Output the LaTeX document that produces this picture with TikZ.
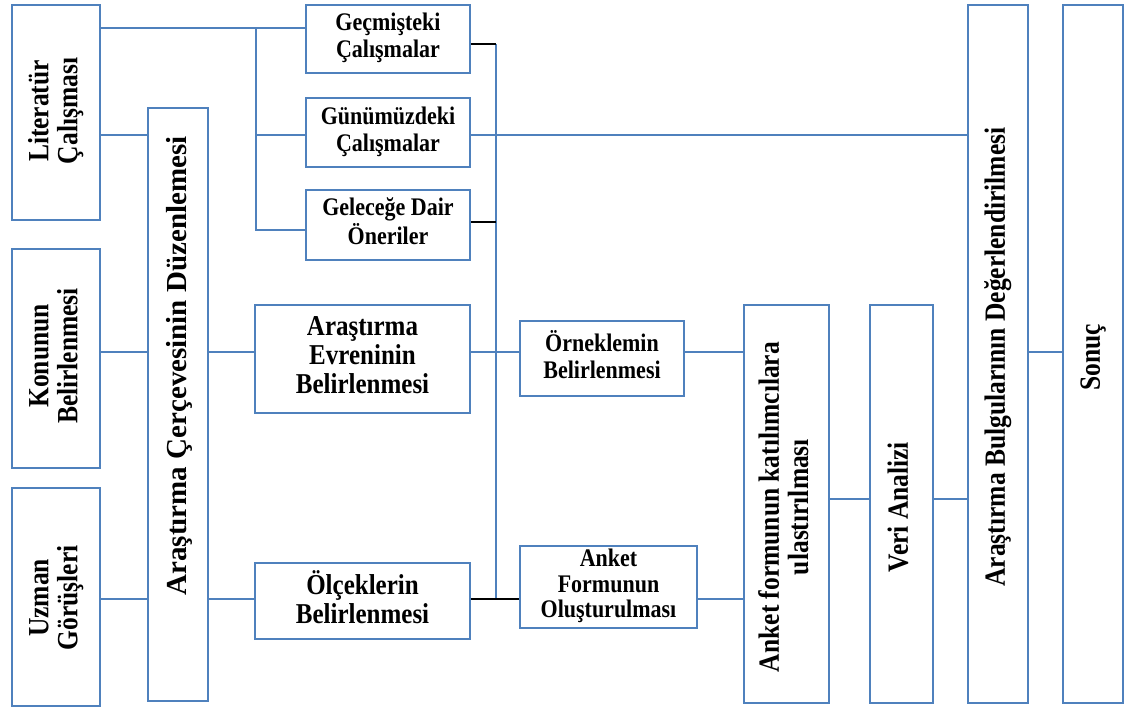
\documentclass[tikz,border=0pt]{standalone}
\usepackage{fontspec}
\setmainfont{Liberation Serif}
\usepackage{graphicx}
\definecolor{bl}{RGB}{79,129,189}
\newcommand{\tallt}[1]{\scalebox{1}[1.15]{\begin{tabular}{@{}c@{}}#1\end{tabular}}}
\tikzset{
  box/.style={draw=bl, line width=2.8pt, fill=white, inner sep=0pt},
  htext/.style={inner sep=0pt, font=\fontsize{22}{23.5}\selectfont\bfseries},
  hbig/.style={inner sep=0pt, font=\fontsize{25}{25.2}\selectfont\bfseries},
  rtext/.style={inner sep=0pt, rotate=90, font=\fontsize{25.5}{25.2}\selectfont\bfseries},
  conn/.style={draw=bl, line width=2.5pt},
  blk/.style={draw=black, line width=2.5pt},
}
\begin{document}
\begin{tikzpicture}[x=1pt,y=-1pt]
\fill[white] (0,0) rectangle (1128,715);
\useasboundingbox (0,0) rectangle (1128,715);

% left column
\node[box, minimum width=88pt, minimum height=215pt] (lit) at (56,112.5) {};
\node[rtext] (litT) at (57,111) {\tallt{Literatür\\Çalışması}};
\node[box, minimum width=88pt, minimum height=219pt] (kon) at (56,358.5) {};
\node[rtext] (konT) at (57,356) {\tallt{Konunun\\Belirlenmesi}};
\node[box, minimum width=88pt, minimum height=218pt] (uzm) at (56,597) {};
\node[rtext] (uzmT) at (57,598) {\tallt{Uzman\\Görüşleri}};

% framework
\node[box, minimum width=60pt, minimum height=593pt] (cer) at (178,404.5) {};
\node[rtext, font=\fontsize{29}{33}\selectfont\bfseries] (cerT) at (179,366) {Araştırma Çerçevesinin Düzenlemesi};

% top studies
\node[box, minimum width=164pt, minimum height=68pt] (gec) at (388,39) {};
\node[htext] (gecT) at (gec) {\tallt{Geçmişteki\\Çalışmalar}};
\node[box, minimum width=164pt, minimum height=69pt] (gun) at (388,132.5) {};
\node[htext] (gunT) at (gun) {\tallt{Günümüzdeki\\Çalışmalar}};
\node[box, minimum width=164pt, minimum height=70pt] (gel) at (388,225) {};
\node[htext] (gelT) at (gel) {\tallt{Geleceğe Dair\\Öneriler}};

% middle
\node[box, minimum width=215pt, minimum height=108pt] (evr) at (362.5,359) {};
\node[hbig] (evrT) at (evr) {\tallt{Araştırma\\Evreninin\\Belirlenmesi}};
\node[box, minimum width=215pt, minimum height=76pt] (olc) at (362.5,601) {};
\node[hbig] (olcT) at (olc) {\tallt{Ölçeklerin\\Belirlenmesi}};
\node[box, minimum width=164pt, minimum height=75pt] (orn) at (602,358.5) {};
\node[htext] (ornT) at (orn) {\tallt{Örneklemin\\Belirlenmesi}};
\node[box, minimum width=177pt, minimum height=82pt] (ank) at (608.5,587) {};
\node[htext, font=\fontsize{22}{22}\selectfont\bfseries] (ankT) at (ank) {\tallt{Anket\\Formunun\\Oluşturulması}};

% right columns
\node[box, minimum width=85pt, minimum height=398pt] (kat) at (786.5,504) {};
\node[rtext] (katT) at (787.5,507) {\tallt{Anket formunun katılımcılara\\ulastırılması}};
\node[box, minimum width=63pt, minimum height=398pt] (ver) at (901.5,504) {};
\node[rtext] (verT) at (902,507) {\tallt{Veri Analizi}};
\node[box, minimum width=60pt, minimum height=698pt] (bul) at (998,354) {};
\node[rtext] (bulT) at (999,357) {\tallt{Araştırma Bulgularının Değerlendirilmesi}};
\node[box, minimum width=60pt, minimum height=698pt] (son) at (1093,354) {};
\node[rtext] (sonT) at (1094,357) {\tallt{Sonuç}};

% helper coordinates
\coordinate (y28) at (0,28);
\coordinate (y44) at (0,44);
\coordinate (y135) at (0,135);
\coordinate (y222) at (0,222);
\coordinate (y230) at (0,230);
\coordinate (y352) at (0,352);
\coordinate (y499) at (0,499);
\coordinate (y599) at (0,599);
\coordinate (tA) at (256,28);
\coordinate (tB) at (256,135);
\coordinate (tC) at (256,230);
\coordinate (vTop) at (496,44);
\coordinate (vMid) at (496,222);
\coordinate (vBot) at (496,599);

% connectors
\draw[conn] (lit.east |- y28) -- (gec.west |- y28);
\draw[conn] (tA) -- (tC) -- (gel.west |- y230);
\draw[conn] (tB) -- (gun.west |- y135);
\draw[conn] (lit.east |- y135) -- (cer.west |- y135);
\draw[conn] (kon.east |- y352) -- (cer.west |- y352);
\draw[conn] (uzm.east |- y599) -- (cer.west |- y599);
\draw[conn] (cer.east |- y352) -- (evr.west |- y352);
\draw[conn] (cer.east |- y599) -- (olc.west |- y599);
\draw[conn] (gun.east |- y135) -- (bul.west |- y135);
\draw[conn] (vTop) -- (vBot);
\draw[blk] (gec.east |- y44) -- (vTop);
\draw[blk] (gel.east |- y222) -- (vMid);
\draw[conn] (evr.east |- y352) -- (orn.west |- y352);
\draw[blk] (olc.east |- y599) -- (ank.west |- y599);
\draw[conn] (orn.east |- y352) -- (kat.west |- y352);
\draw[conn] (ank.east |- y599) -- (kat.west |- y599);
\draw[conn] (kat.east |- y499) -- (ver.west |- y499);
\draw[conn] (ver.east |- y499) -- (bul.west |- y499);
\draw[conn] (bul.east |- y352) -- (son.west |- y352);
\end{tikzpicture}
\end{document}
